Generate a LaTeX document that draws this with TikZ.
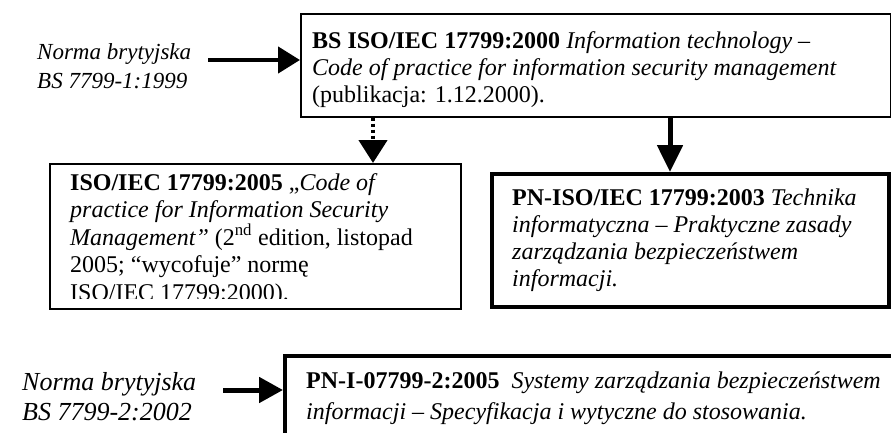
\documentclass[tikz,border=0pt]{standalone}
\usepackage{fontspec}
\setmainfont{Liberation Serif}
\usetikzlibrary{arrows.meta}
\usetikzlibrary{positioning}
\tikzset{>=Triangle}
\tikzset{
  std_box/.style = {draw=black, line width=1.5pt, inner sep=0pt, anchor=north west},
  thick_box/.style = {std_box, line width=3.5pt},
  box_txt/.style = {anchor=base west, align=left, inner sep=0pt, font=\fontsize{24}{27.3}\selectfont},
  lbl_txt/.style = {anchor=base west, align=left, inner sep=0pt, font=\fontsize{23}{29}\selectfont\itshape},
  std_arr/.style = {line width=4.5pt}
}

\begin{document}
\begin{tikzpicture}[x=1pt,y=-1pt]
\clip (0,0) rectangle (891,432);

% upper part (text nodes sit on the baseline of their last line)
\node [lbl_txt] (lbl_bs1) at (37,88) {Norma brytyjska\\BS 7799-1:1999};
\node [std_box, minimum width=590pt, minimum height=103pt] (bs17799) at (300,13) {};
\node [box_txt] (bs17799_txt) at (312,102.6)
  {\textbf{BS ISO/IEC 17799:2000} \textit{Information technology –}\\
   \textit{Code of practice for information security management}\\
   (publikacja: 1.12.2000).};

\begin{scope}
  \clip (49,163) rectangle (460,298);
  \node [box_txt, font=\fontsize{24}{27.5}\selectfont] (iso2005_txt) at (70,300)
    {\textbf{ISO/IEC 17799:2005} „\textit{Code of}\\
     \textit{practice for Information Security}\\
     \textit{Management”} (2\textsuperscript{nd} edition, listopad\\
     2005; “wycofuje” normę\\
     ISO/IEC 17799:2000).};
\end{scope}
\node [std_box, minimum width=411pt, minimum height=145pt] (iso2005) at (49,163) {};

\node [thick_box, minimum width=397pt, minimum height=133pt] (pn2003) at (490,172) {};
\node [box_txt] (pn2003_txt) at (512,286.9)
  {\textbf{PN-ISO/IEC 17799:2003} \textit{Technika}\\
   \textit{informatyczna – Praktyczne zasady}\\
   \textit{zarządzania bezpieczeństwem}\\
   \textit{informacji.}};

% lower part
\node [lbl_txt, font=\fontsize{26}{30}\selectfont\itshape] (lbl_bs2) at (22,420) {Norma brytyjska\\BS 7799-2:2002};
\node [thick_box, line width=4pt, minimum width=640pt, minimum height=120pt] (pn2005) at (283,354) {};
\node [box_txt, font=\fontsize{24}{31}\selectfont] (pn2005_txt) at (306,419)
  {\textbf{PN-I-07799-2:2005}\ \ \textit{Systemy zarządzania bezpieczeństwem}\\
   \textit{informacji – Specyfikacja i wytyczne do stosowania.}};

% arrows
\coordinate (from_bs1) at (208,60);
\coordinate (from_bs2) at (223,390);
\draw [std_arr, -{Triangle[length=22pt,width=26pt]}] (from_bs1) -- (from_bs1 -| bs17799.west);
\draw [std_arr, dash pattern=on 3pt off 3pt, -{Triangle[length=23pt,width=28pt]}]
  ([xshift=73pt]bs17799.south west) -- ([xshift=73pt]bs17799.south west |- iso2005.north);
\draw [std_arr, line width=5pt, -{Triangle[length=27pt,width=25pt]}]
  ([xshift=370pt]bs17799.south west) -- ([xshift=370pt]bs17799.south west |- pn2003.north);
\draw [std_arr, line width=5pt, -{Triangle[length=24pt,width=25pt]}] (from_bs2) -- (from_bs2 -| pn2005.west);

\end{tikzpicture}
\end{document}
